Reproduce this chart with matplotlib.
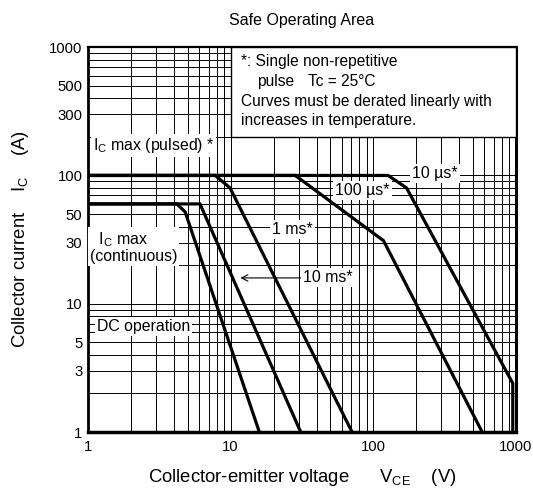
import matplotlib
matplotlib.use("Agg")
import matplotlib.pyplot as plt
from matplotlib.ticker import LogLocator, NullFormatter
from matplotlib.patches import Rectangle

plt.rcParams['font.family'] = ['Liberation Sans', 'DejaVu Sans']
plt.rcParams['mathtext.fontset'] = 'custom'
plt.rcParams['mathtext.rm'] = 'Liberation Sans'
plt.rcParams['mathtext.it'] = 'Liberation Sans'
plt.rcParams['mathtext.default'] = 'regular'

# SOA curves (V_CE in V, I_C in A)
v_10us = [1, 127, 171, 950, 950]
i_10us = [100, 100, 80, 2.4, 1]
v_100us = [1, 28.4, 118, 580]
i_100us = [100, 100, 31, 1]
v_1ms = [1, 7.8, 9.9, 71]
i_1ms = [100, 100, 80, 1]
v_10ms = [1, 6.1, 31]
i_10ms = [60, 60, 1]
v_dc = [1, 4.2, 4.8, 15.9]
i_dc = [60, 60, 52, 1]

x_ticks = [1, 10, 100, 1000]
y_ticks = [1, 3, 5, 10, 30, 50, 100, 300, 500, 1000]

fig = plt.figure(figsize=(5.33, 4.91), dpi=100)
ax = fig.add_axes([0.165, 0.120, 0.803, 0.784])

ax.set_xscale('log')
ax.set_yscale('log')
ax.set_xlim(1, 1000)
ax.set_ylim(1, 1000)

ax.set_xticks(x_ticks)
ax.set_xticklabels([str(v) for v in x_ticks])
ax.set_yticks(y_ticks)
ax.set_yticklabels([str(v) for v in y_ticks])
for axis in (ax.xaxis, ax.yaxis):
    axis.set_minor_locator(LogLocator(base=10, subs=range(2, 10)))
    axis.set_minor_formatter(NullFormatter())
ax.tick_params(which='both', length=0, labelsize=10.7)
ax.tick_params(axis='y', pad=4)
ax.tick_params(axis='x', pad=6)
ax.grid(which='both', color='black', lw=0.7)
ax.set_axisbelow(True)

ax.spines['left'].set_linewidth(2.0)
ax.spines['bottom'].set_linewidth(2.5)
ax.spines['top'].set_linewidth(1.6)
ax.spines['right'].set_linewidth(2.2)

# curves
for v, i in [(v_10us, i_10us), (v_100us, i_100us), (v_1ms, i_1ms),
             (v_10ms, i_10ms), (v_dc, i_dc)]:
    ax.plot(v, i, color='black', lw=2.3, zorder=3, solid_joinstyle='miter')

# note box
ax.add_patch(Rectangle((10, 200), 990, 800, facecolor='white',
                       edgecolor='black', lw=1.0, zorder=5))
note_kw = dict(transform=ax.transAxes, fontsize=11.2, va='center', ha='left', zorder=6)
ax.text(0.357, 0.962, '*: Single non-repetitive', **note_kw)
ax.text(0.394, 0.910, 'pulse', **note_kw)
ax.text(0.515, 0.910, 'Tc = 25°C', **note_kw)
ax.text(0.357, 0.858, 'Curves must be derated linearly with', **note_kw)
ax.text(0.357, 0.810, 'increases in temperature.', **note_kw)

box = dict(facecolor='white', edgecolor='none', pad=1.5)
lbl_kw = dict(fontsize=11.4, va='center', ha='left', zorder=4, bbox=box)
ax.text(1.08, 172, 'I$_C$ max (pulsed) *', **lbl_kw)
ax.text(1.03, 27.5, '  I$_C$ max\n(continuous)', linespacing=1.0, **lbl_kw)
ax.text(1.16, 6.7, 'DC operation', **lbl_kw)
ax.text(19.6, 37.8, '1 ms*', **lbl_kw)
ax.text(54, 76, '100 µs*', **lbl_kw)
ax.text(187, 104, '10 µs*', **lbl_kw)
ax.annotate('10 ms*', xy=(11.7, 15.9), xytext=(32.3, 15.9),
            arrowprops=dict(arrowstyle='->', lw=0.8, color='black',
                            shrinkA=0, shrinkB=0),
            **lbl_kw)

ax.set_title('Safe Operating Area', fontsize=11.5, pad=16)
ax.set_xlabel('Collector-emitter voltage      V$_{CE}$    (V)', fontsize=13.3, labelpad=9)
ax.set_ylabel('Collector current    I$_C$    (A)', fontsize=13.3, labelpad=13)

fig.savefig('out.png', dpi=100)
